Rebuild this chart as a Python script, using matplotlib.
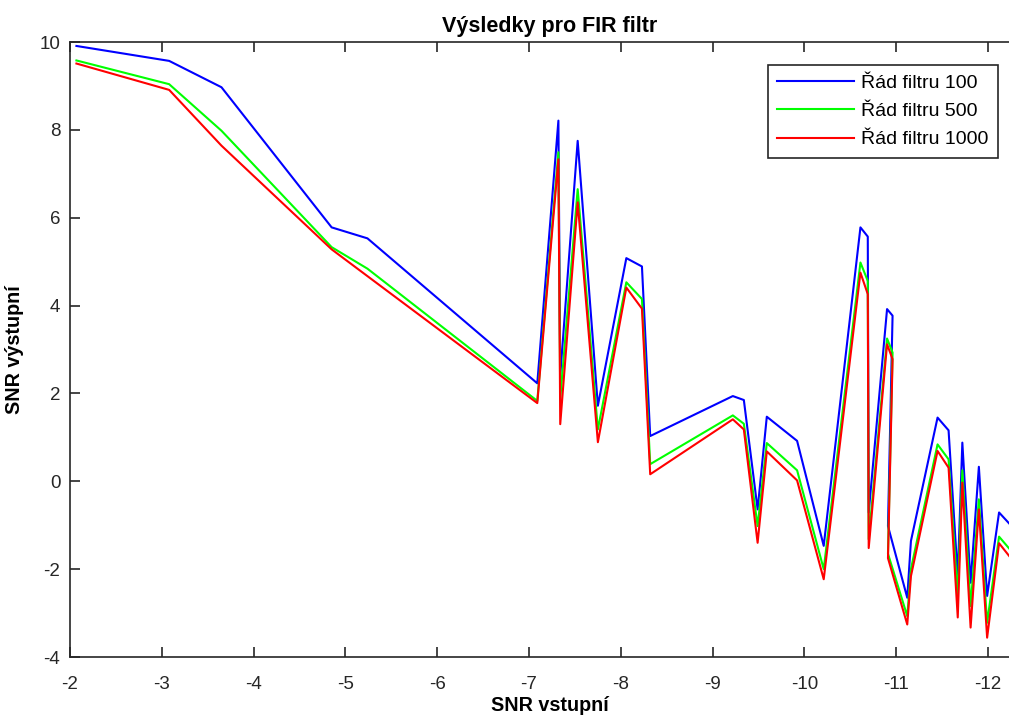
import matplotlib
matplotlib.use("Agg")
import matplotlib.pyplot as plt

snr_in = [-2.07, -3.08, -3.65, -4.85, -5.24, -7.09, -7.32, -7.34, -7.53, -7.75,
          -8.06, -8.23, -8.32, -9.22, -9.34, -9.49, -9.59, -9.92, -10.21, -10.61,
          -10.69, -10.70, -10.90, -10.96, -10.91, -11.12, -11.16, -11.45, -11.57, -11.67,
          -11.72, -11.81, -11.90, -11.99, -12.12, -12.23]
snr_100 = [9.91, 9.57, 8.97, 5.78, 5.53, 2.23, 8.21, 2.40, 7.75, 1.72,
           5.08, 4.89, 1.03, 1.94, 1.85, -0.64, 1.47, 0.92, -1.47, 5.78,
           5.57, -0.71, 3.92, 3.77, -1.02, -2.65, -1.36, 1.45, 1.16, -2.16,
           0.88, -2.31, 0.33, -2.61, -0.71, -0.96]
snr_500 = [9.58, 9.04, 7.98, 5.33, 4.84, 1.83, 7.49, 1.87, 6.65, 1.18,
           4.53, 4.15, 0.39, 1.50, 1.31, -1.02, 0.87, 0.25, -2.00, 4.98,
           4.56, -1.32, 3.25, 2.93, -1.65, -3.07, -2.00, 0.84, 0.50, -2.61,
           0.25, -2.84, -0.41, -3.22, -1.26, -1.53]
snr_1000 = [9.51, 8.91, 7.64, 5.28, 4.67, 1.78, 7.33, 1.30, 6.35, 0.89,
            4.41, 3.93, 0.16, 1.41, 1.18, -1.40, 0.68, 0.02, -2.23, 4.75,
            4.26, -1.52, 3.12, 2.78, -1.75, -3.26, -2.16, 0.69, 0.31, -3.10,
            -0.03, -3.33, -0.64, -3.56, -1.41, -1.70]
labels = ["Řád filtru 100", "Řád filtru 500", "Řád filtru 1000"]
xticks = [-2, -3, -4, -5, -6, -7, -8, -9, -10, -11, -12]
yticks = [-4, -2, 0, 2, 4, 6, 8, 10]

plt.rcParams['font.family'] = ['Liberation Sans', 'DejaVu Sans']

W, H = 1009, 720
fig = plt.figure(figsize=(W / 100, H / 100), dpi=100)
ax = fig.add_axes([70 / W, (H - 657) / H, (1030 - 70) / W, (657 - 42) / H])

ax.plot(snr_in, snr_100, color=(0, 0, 1), lw=1.5, label=labels[0])
ax.plot(snr_in, snr_500, color=(0, 1, 0), lw=1.5, label=labels[1])
ax.plot(snr_in, snr_1000, color=(1, 0, 0), lw=1.5, label=labels[2])

ax.set_xlim(-2, -12.457)
ax.set_ylim(-4, 10)
ax.set_xticks(xticks)
ax.set_yticks(yticks)
ax.set_xticklabels([str(t) for t in xticks])
ax.set_yticklabels([str(t) for t in yticks])

for s in ax.spines.values():
    s.set_color('#262626')
    s.set_linewidth(1.2)
ax.tick_params(direction='in', length=7, width=1.2, color='#262626',
               top=True, right=True, labelsize=13.5, labelcolor='#262626')
ax.tick_params(axis='x', pad=14)
ax.tick_params(axis='y', pad=7)

ax.set_title("Výsledky pro FIR filtr", fontsize=15.5, fontweight='bold', pad=7)
ax.set_xlabel("SNR vstupní", fontsize=14.2, fontweight='bold', labelpad=2)
ax.set_ylabel("SNR výstupní", fontsize=14.2, fontweight='bold', labelpad=11)

leg = ax.legend(loc='upper right', bbox_to_anchor=(998 / W, (H - 65) / H),
                bbox_transform=fig.transFigure, fontsize=14, frameon=True,
                fancybox=False, edgecolor='#262626', handlelength=3.95,
                handletextpad=0.38, labelspacing=0.545, borderpad=0.48,
                borderaxespad=0)
leg.get_frame().set_linewidth(1.2)
leg.get_frame().set_alpha(1)

fig.savefig("out.png", dpi=100)
